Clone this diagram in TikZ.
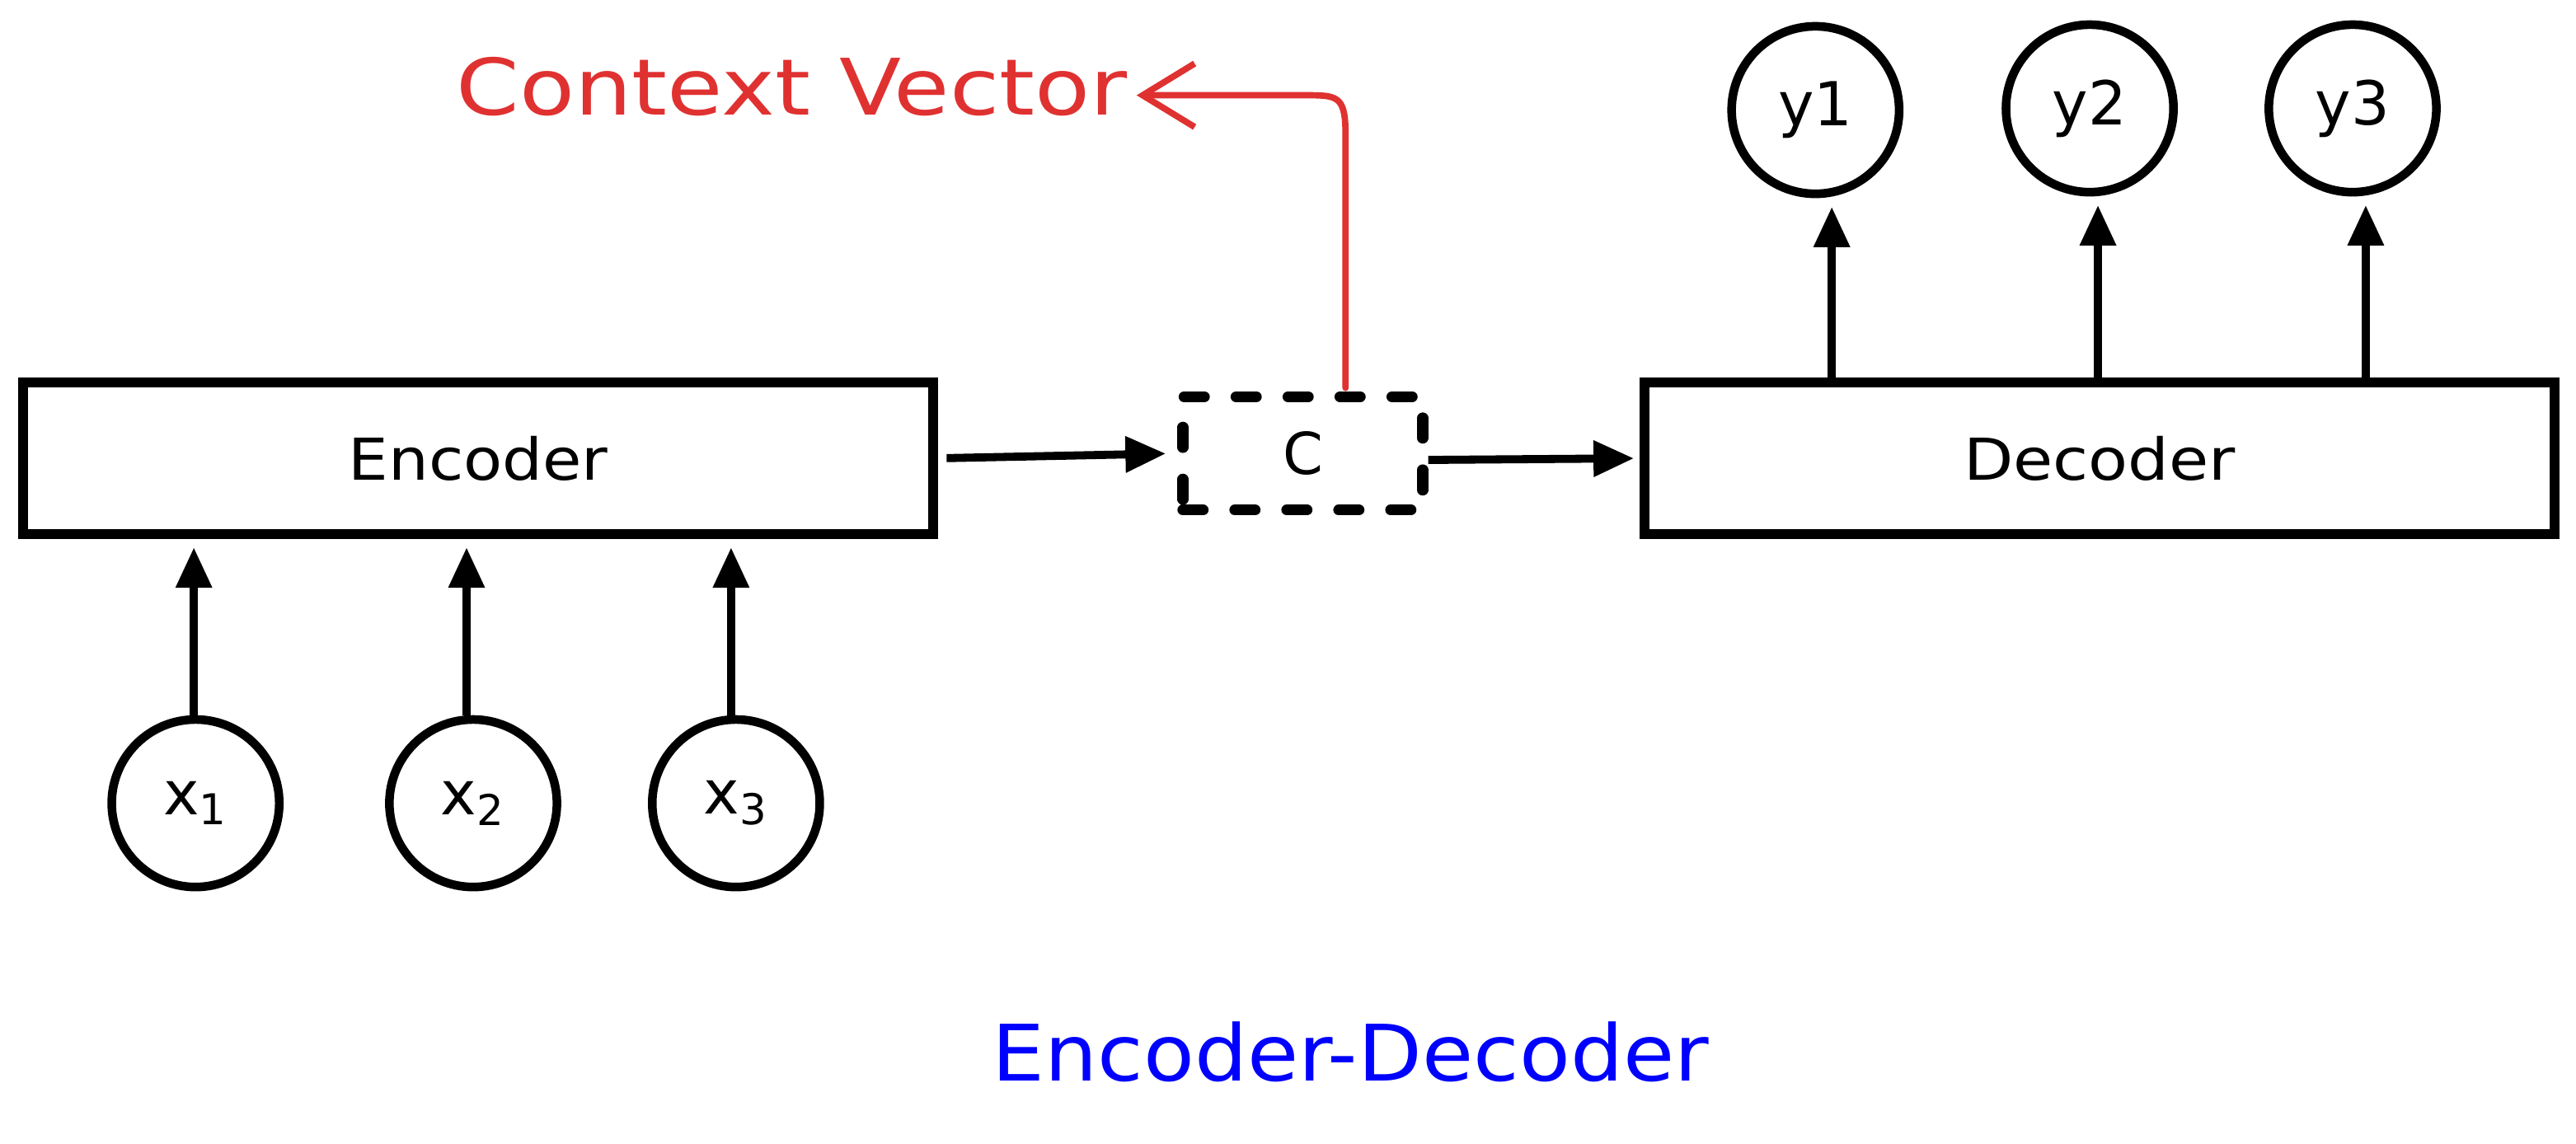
\documentclass[tikz,border=0pt]{standalone}
\usepackage{graphicx}
\usepackage{fontspec}
\setmainfont{DejaVu Sans}
\usetikzlibrary{arrows.meta,calc}
\definecolor{exred}{RGB}{224,49,49}
\definecolor{exblue}{RGB}{0,0,255}
\begin{document}
\begin{tikzpicture}[x=0.02cm,y=-0.02cm,
  box/.style={draw=black, line width=3.4pt, minimum width=11.08cm, minimum height=1.84cm, inner sep=0pt, font=\fontsize{20}{24}\selectfont},
  dbox/.style={draw=black, line width=3.8pt, dash pattern=on 7pt off 11pt, line cap=round, minimum width=2.92cm, minimum height=1.38cm, font=\fontsize{20}{24}\selectfont},
  io/.style={circle, draw=black, line width=3pt, minimum size=2.04cm, inner sep=0pt, font=\fontsize{21}{25}\selectfont},
  arr/.style={line width=2.8pt, -{Triangle[length=14pt,width=12pt]}},
  redarr/.style={draw=exred, line width=2.2pt, -{Straight Barb[length=18pt,width=22pt]}, line cap=round, line join=round},
]
\path[use as bounding box] (0,0) rectangle (1568,696);

\node[box] (enc) at (291,279) {\scalebox{1.1}[1]{Encoder}};
\node[dbox] (c) at (793,276) {C};
\node[box] (dec) at (1278,279) {\scalebox{1.12}[1]{Decoder}};

\node[io] (x1) at (119,489) {x\textsubscript{1}};
\node[io] (x2) at (288,489) {x\textsubscript{2}};
\node[io] (x3) at (448,489) {x\textsubscript{3}};

\node[io] (y1) at (1105,67) {y1};
\node[io] (y2) at (1272,66) {y2};
\node[io] (y3) at (1432,66) {y3};

\node[font=\fontsize{27}{32}\selectfont, text=exred, anchor=base, inner sep=3pt] (ctx) at (482,70) {\scalebox{1.16}[1]{Context Vector}};
\node[font=\fontsize{27}{32}\selectfont, text=exblue, anchor=base] (title) at (822,658) {\scalebox{1.07}[1]{Encoder-Decoder}};

% inputs to encoder
\draw[arr, shorten >=3pt] ($(x1.north)+(-1,0)$) -- ($(x1.north |- enc.south)+(-1,0)$);
\draw[arr, shorten >=3pt] ($(x2.north)+(-4,0)$) -- ($(x2.north |- enc.south)+(-4,0)$);
\draw[arr, shorten >=3pt] ($(x3.north)+(-3,0)$) -- ($(x3.north |- enc.south)+(-3,0)$);

% encoder -> C -> decoder
\draw[arr, shorten <=3pt, shorten >=4pt] (enc.east) -- (c.west);
\draw[arr, shorten >=2pt] ($(c.east)+(0,4)$) -- ($(dec.west)+(0,0)$);

% decoder to outputs
\draw[arr, shorten >=3pt] ($(dec.north -| y1)+(10,0)$) -- ($(y1.south)+(10,0)$);
\draw[arr, shorten >=3pt] ($(dec.north -| y2)+(5,0)$) -- ($(y2.south)+(5,0)$);
\draw[arr, shorten >=3pt] ($(dec.north -| y3)+(8,0)$) -- ($(y3.south)+(8,0)$);

% context vector pointer
\coordinate (rs) at ($(c.north)+(26,-2)$);
\coordinate (bend) at (798,58);
\draw[redarr] (rs) -- (819,82) .. controls (819,60) and (815,58) .. (bend) -- (ctx.east |- bend);
\end{tikzpicture}
\end{document}
